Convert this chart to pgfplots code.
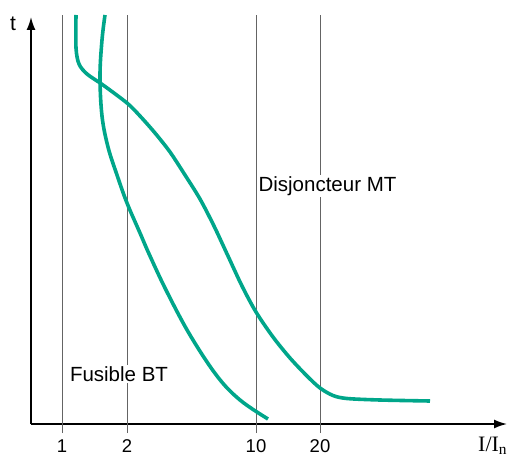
\documentclass[border=0pt]{standalone}
\usepackage{pgfplots}
\pgfplotsset{compat=1.18}
\usepackage{fontspec}
\setmainfont{Liberation Sans}
\newfontfamily\seriffont{Liberation Serif}
\usetikzlibrary{arrows.meta}
\definecolor{curve}{RGB}{0,166,138}
\definecolor{gridc}{RGB}{100,100,100}
\begin{document}
\begin{tikzpicture}
\begin{axis}[
  x=1pt, y=1pt,
  xmin=31, xmax=507, ymin=34, ymax=441,
  axis x line=bottom, axis y line=left,
  every outer x axis line/.style={line width=1.6pt,-{Latex[length=13pt,width=9pt]}},
  every outer y axis line/.style={line width=1.6pt,-{Latex[length=13pt,width=9pt]}},
  ytick=\empty,
  xtick={62,127,256,320},
  xticklabels={1,2,10,20},
  xtick align=outside,
  major tick length=0pt,
  xticklabel style={font=\fontsize{18.5}{22}\selectfont, yshift=-12pt},
  /pgf/number format/assume math mode=true,
  clip=false,
]
\path (axis cs:0,0) rectangle (axis cs:510,458);
% vertical reference lines
\foreach \xx in {62,127,256,320}{
  \edef\temp{\noexpand\draw[gridc, line width=0.8pt] (axis cs:\xx,25) -- (axis cs:\xx,443);}
  \temp
}
% Disjoncteur MT
\addplot[curve, line width=3.6pt, smooth, tension=0.5] coordinates {
 (76,443) (76,410) (79,394) (87,384) (103,373) (127,355) (140,342)
 (155,325) (170,306) (185,283) (200,259) (214,232) (228,202) (242,172)
 (256,146) (273,121) (290,100) (307,82) (320,70) (333,62.5) (347,59.5)
 (380,58) (430,57)
};
% Fusible BT
\addplot[curve, line width=3.6pt, smooth, tension=0.6] coordinates {
 (105,443) (102,418) (100,382) (102,342) (108,311) (117,283)
 (127,255) (140,225) (150,202) (167,166) (190,123) (217,82) (240,58) (268,39)
};
\node[fill=white, inner sep=1pt, font=\fontsize{20.5}{24}\selectfont] at (axis cs:327.5,272) {Disjoncteur MT};
\node[fill=white, inner sep=1pt, font=\fontsize{20.5}{24}\selectfont] at (axis cs:119,84) {Fusible BT};
\node[font=\fontsize{21}{24}\selectfont] at (axis cs:13,434) {t};
\node[font=\fontsize{22}{26}\selectfont\seriffont, anchor=west, inner sep=0pt] at (axis cs:478,12) {I/I\textsubscript{n}};
\end{axis}
\end{tikzpicture}
\end{document}
